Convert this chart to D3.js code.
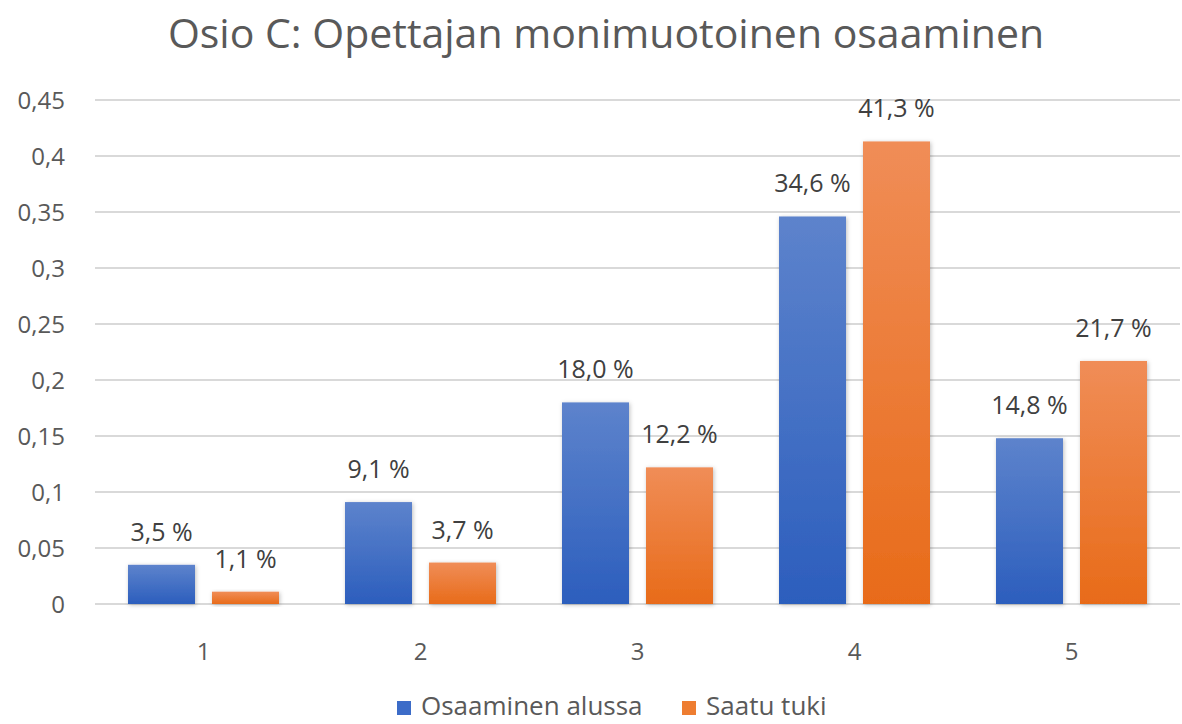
<!DOCTYPE html>
<html><head><meta charset="utf-8">
<script src="https://cdn.jsdelivr.net/npm/d3@7"></script>
<style>body{margin:0;background:#fff;}svg{display:block;}</style>
</head><body>
<svg id="c" width="1182" height="724"></svg>
<script>
const categories = ["1","2","3","4","5"];
const seriesNames = ["Osaaminen alussa","Saatu tuki"];
const osaaminenAlussa = [0.035,0.091,0.180,0.346,0.148];
const saatuTuki = [0.011,0.037,0.122,0.413,0.217];
const yTicks = [0,0.05,0.1,0.15,0.2,0.25,0.3,0.35,0.4,0.45];
const titleText = "Osio C: Opettajan monimuotoinen osaaminen";

const font = "'Open Sans', 'Noto Sans', sans-serif";
const gray = "#595959";
const svg = d3.select("#c");
const defs = svg.append("defs");
function grad(id, top, bot){
  const g = defs.append("linearGradient").attr("id",id).attr("x1",0).attr("y1",0).attr("x2",0).attr("y2",1);
  g.append("stop").attr("offset","0%").attr("stop-color",top);
  g.append("stop").attr("offset","100%").attr("stop-color",bot);
}
grad("gBlue","#5d83cc","#2c5ebd");
grad("gOrange","#f08d57","#e86b19");
const f = defs.append("filter").attr("id","sh").attr("x","-20%").attr("y","-20%").attr("width","140%").attr("height","140%");
f.append("feDropShadow").attr("dx",1).attr("dy",1).attr("stdDeviation",2).attr("flood-color","#000").attr("flood-opacity",0.25);

const x = d3.scaleBand().domain(categories).range([95,1180]).paddingInner(0).paddingOuter(0);
const y = d3.scaleLinear().domain([0,0.45]).range([604,100]);

// gridlines
svg.append("g").selectAll("line").data(yTicks).join("line")
  .attr("x1",95).attr("x2",1180).attr("y1",d=>y(d)).attr("y2",d=>y(d))
  .attr("stroke","#d9d9d9").attr("stroke-width",2);

// y labels
svg.append("g").selectAll("text").data(yTicks).join("text")
  .attr("x",65).attr("y",d=>y(d)).attr("dy","0.36em").attr("text-anchor","end")
  .attr("font-family",font).attr("font-size",24).attr("fill",gray)
  .text(d=>d3.format("")(d).replace(".",","));

// x labels
svg.append("g").selectAll("text").data(categories).join("text")
  .attr("x",d=>x(d)+x.bandwidth()/2).attr("y",651).attr("dy","0.36em").attr("text-anchor","middle")
  .attr("font-family",font).attr("font-size",24).attr("fill",gray).text(d=>d);

const barW = 67, gap = 17;
const series = [
  {name:seriesNames[0], vals:osaaminenAlussa, fill:"url(#gBlue)", off:0},
  {name:seriesNames[1], vals:saatuTuki, fill:"url(#gOrange)", off:barW+gap}
];
const start = (x.bandwidth() - (2*barW+gap))/2;
series.forEach(s=>{
  const g = svg.append("g");
  g.selectAll("rect").data(categories).join("rect")
    .attr("x",(d)=>x(d)+start+s.off).attr("width",barW)
    .attr("y",(d,i)=>y(s.vals[i])).attr("height",(d,i)=>y(0)-y(s.vals[i]))
    .attr("fill",s.fill).attr("filter","url(#sh)");
  g.selectAll("text").data(categories).join("text")
    .attr("x",(d)=>x(d)+start+s.off+barW/2).attr("y",(d,i)=>y(s.vals[i])-24)
    .attr("text-anchor","middle").attr("font-family",font).attr("font-size",25).attr("fill","#404040")
    .text((d,i)=>(s.vals[i]*100).toFixed(1).replace(".",",")+" %");
});

// title
svg.append("text").attr("x",606).attr("y",48).attr("text-anchor","middle")
  .attr("font-family",font).attr("font-size",41).attr("fill",gray).text(titleText);

// legend
const lg = svg.append("g");
const legX = [397, 682];
const legCol = ["#3c6cc8","#ee7d31"];
seriesNames.forEach((n,i)=>{
  lg.append("rect").attr("x",legX[i]).attr("y",701).attr("width",14).attr("height",14).attr("fill",legCol[i]);
  lg.append("text").attr("x",legX[i]+24).attr("y",715)
    .attr("font-family",font).attr("font-size",26).attr("fill",gray).text(n);
});
</script>
</body></html>
